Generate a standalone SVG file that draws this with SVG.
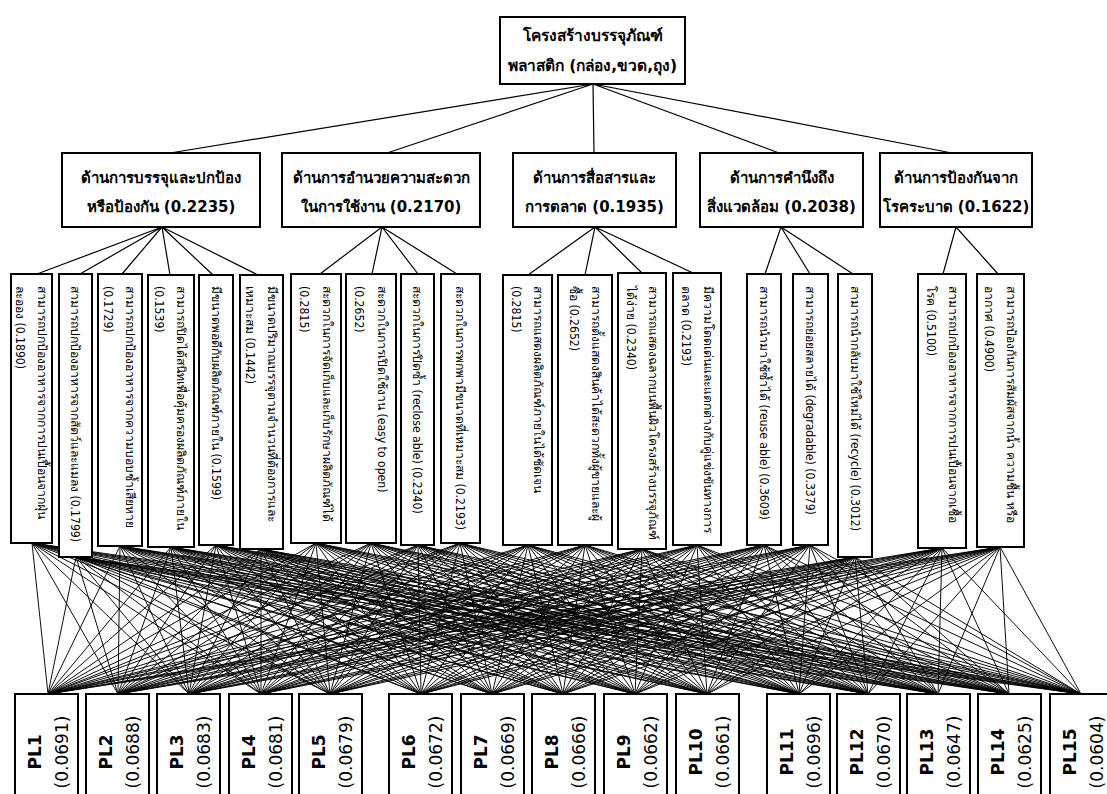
<svg xmlns="http://www.w3.org/2000/svg" width="1107" height="794" viewBox="0 0 1107 794">
  <style>
    .box { fill: #ffffff; stroke: #000000; stroke-width: 2; }
    .edge { fill: none; stroke: #000000; stroke-width: 1.2; }
    .mesh { fill: none; stroke: #000000; stroke-width: 0.95; }
    text { font-family: "DejaVu Sans", "Noto Sans", sans-serif; fill: #000000; }
    .t0 { font-size: 15.5px; font-weight: bold; text-anchor: middle; }
    .t1 { font-size: 15px; font-weight: bold; text-anchor: middle; }
    .t2 { font-family: "DejaVu Sans Condensed", "DejaVu Sans", sans-serif; font-size: 12.1px; }
    .t3 { font-size: 17px; text-anchor: middle; }
    .t3 .pl { font-weight: bold; }
  </style>
  <rect width="1107" height="794" fill="#ffffff"/>

  <!-- connectors -->
  <g id="connectors">
    <!-- goal to criteria -->
    <path class="edge" d="M593 84L170 153M593 84L387 153M593 84L594 153M593 84L779 153M593 84L952 153"/>
    <!-- criteria to sub-criteria -->
    <path class="edge" d="M162 227L37 274M162 227L80 274M162 227L122 274M162 227L170 275M162 227L213 275M162 227L258 275"/>
    <path class="edge" d="M382 227L320 274M382 227L372 274M382 227L418 274M382 227L457 274"/>
    <path class="edge" d="M595 227L528 275M595 227L585 275M595 227L642 273M595 227L693 273"/>
    <path class="edge" d="M781 227L765 274M781 227L810 274M781 227L853 274"/>
    <path class="edge" d="M956 227L943 274M956 227L998 274"/>
    <!-- sub-criteria to alternatives -->
    <path class="mesh" d="M32 543L48 694M32 543L118 694M32 543L189 694M32 543L261 694M32 543L330 694M32 543L421 694M32 543L492 694M32 543L563 694M32 543L635 694M32 543L707 694M32 543L799 694M32 543L868 694M32 543L938 694M32 543L1009 694M32 543L1081 694"/>
    <path class="mesh" d="M76 557L48 694M76 557L118 694M76 557L189 694M76 557L261 694M76 557L330 694M76 557L421 694M76 557L492 694M76 557L563 694M76 557L635 694M76 557L707 694M76 557L799 694M76 557L868 694M76 557L938 694M76 557L1009 694M76 557L1081 694"/>
    <path class="mesh" d="M120 546L48 694M120 546L118 694M120 546L189 694M120 546L261 694M120 546L330 694M120 546L421 694M120 546L492 694M120 546L563 694M120 546L635 694M120 546L707 694M120 546L799 694M120 546L868 694M120 546L938 694M120 546L1009 694M120 546L1081 694"/>
    <path class="mesh" d="M171 547L48 694M171 547L118 694M171 547L189 694M171 547L261 694M171 547L330 694M171 547L421 694M171 547L492 694M171 547L563 694M171 547L635 694M171 547L707 694M171 547L799 694M171 547L868 694M171 547L938 694M171 547L1009 694M171 547L1081 694"/>
    <path class="mesh" d="M216 545L48 694M216 545L118 694M216 545L189 694M216 545L261 694M216 545L330 694M216 545L421 694M216 545L492 694M216 545L563 694M216 545L635 694M216 545L707 694M216 545L799 694M216 545L868 694M216 545L938 694M216 545L1009 694M216 545L1081 694"/>
    <path class="mesh" d="M261 549L48 694M261 549L118 694M261 549L189 694M261 549L261 694M261 549L330 694M261 549L421 694M261 549L492 694M261 549L563 694M261 549L635 694M261 549L707 694M261 549L799 694M261 549L868 694M261 549L938 694M261 549L1009 694M261 549L1081 694"/>
    <path class="mesh" d="M316 543L48 694M316 543L118 694M316 543L189 694M316 543L261 694M316 543L330 694M316 543L421 694M316 543L492 694M316 543L563 694M316 543L635 694M316 543L707 694M316 543L799 694M316 543L868 694M316 543L938 694M316 543L1009 694M316 543L1081 694"/>
    <path class="mesh" d="M371 543L48 694M371 543L118 694M371 543L189 694M371 543L261 694M371 543L330 694M371 543L421 694M371 543L492 694M371 543L563 694M371 543L635 694M371 543L707 694M371 543L799 694M371 543L868 694M371 543L938 694M371 543L1009 694M371 543L1081 694"/>
    <path class="mesh" d="M418 545L48 694M418 545L118 694M418 545L189 694M418 545L261 694M418 545L330 694M418 545L421 694M418 545L492 694M418 545L563 694M418 545L635 694M418 545L707 694M418 545L799 694M418 545L868 694M418 545L938 694M418 545L1009 694M418 545L1081 694"/>
    <path class="mesh" d="M460 543L48 694M460 543L118 694M460 543L189 694M460 543L261 694M460 543L330 694M460 543L421 694M460 543L492 694M460 543L563 694M460 543L635 694M460 543L707 694M460 543L799 694M460 543L868 694M460 543L938 694M460 543L1009 694M460 543L1081 694"/>
    <path class="mesh" d="M528 545L48 694M528 545L118 694M528 545L189 694M528 545L261 694M528 545L330 694M528 545L421 694M528 545L492 694M528 545L563 694M528 545L635 694M528 545L707 694M528 545L799 694M528 545L868 694M528 545L938 694M528 545L1009 694M528 545L1081 694"/>
    <path class="mesh" d="M585 545L48 694M585 545L118 694M585 545L189 694M585 545L261 694M585 545L330 694M585 545L421 694M585 545L492 694M585 545L563 694M585 545L635 694M585 545L707 694M585 545L799 694M585 545L868 694M585 545L938 694M585 545L1009 694M585 545L1081 694"/>
    <path class="mesh" d="M642 549L48 694M642 549L118 694M642 549L189 694M642 549L261 694M642 549L330 694M642 549L421 694M642 549L492 694M642 549L563 694M642 549L635 694M642 549L707 694M642 549L799 694M642 549L868 694M642 549L938 694M642 549L1009 694M642 549L1081 694"/>
    <path class="mesh" d="M697 545L48 694M697 545L118 694M697 545L189 694M697 545L261 694M697 545L330 694M697 545L421 694M697 545L492 694M697 545L563 694M697 545L635 694M697 545L707 694M697 545L799 694M697 545L868 694M697 545L938 694M697 545L1009 694M697 545L1081 694"/>
    <path class="mesh" d="M764 545L48 694M764 545L118 694M764 545L189 694M764 545L261 694M764 545L330 694M764 545L421 694M764 545L492 694M764 545L563 694M764 545L635 694M764 545L707 694M764 545L799 694M764 545L868 694M764 545L938 694M764 545L1009 694M764 545L1081 694"/>
    <path class="mesh" d="M810 545L48 694M810 545L118 694M810 545L189 694M810 545L261 694M810 545L330 694M810 545L421 694M810 545L492 694M810 545L563 694M810 545L635 694M810 545L707 694M810 545L799 694M810 545L868 694M810 545L938 694M810 545L1009 694M810 545L1081 694"/>
    <path class="mesh" d="M855 557L48 694M855 557L118 694M855 557L189 694M855 557L261 694M855 557L330 694M855 557L421 694M855 557L492 694M855 557L563 694M855 557L635 694M855 557L707 694M855 557L799 694M855 557L868 694M855 557L938 694M855 557L1009 694M855 557L1081 694"/>
    <path class="mesh" d="M942 548L48 694M942 548L118 694M942 548L189 694M942 548L261 694M942 548L330 694M942 548L421 694M942 548L492 694M942 548L563 694M942 548L635 694M942 548L707 694M942 548L799 694M942 548L868 694M942 548L938 694M942 548L1009 694M942 548L1081 694"/>
    <path class="mesh" d="M1000 547L48 694M1000 547L118 694M1000 547L189 694M1000 547L261 694M1000 547L330 694M1000 547L421 694M1000 547L492 694M1000 547L563 694M1000 547L635 694M1000 547L707 694M1000 547L799 694M1000 547L868 694M1000 547L938 694M1000 547L1009 694M1000 547L1081 694"/>
  </g>

  <!-- goal -->
  <g id="goal">
    <rect class="box" x="500" y="17" width="185" height="67"/>
    <text class="t0" x="592.5" y="41">โครงสร้างบรรจุภัณฑ์</text>
    <text class="t0" x="592.5" y="71">พลาสติก (กล่อง,ขวด,ถุง)</text>
  </g>

  <!-- criteria -->
  <g id="c1">
    <rect class="box" x="62" y="153" width="198" height="74"/>
    <text class="t1" x="161" y="183">ด้านการบรรจุและปกป้อง</text>
    <text class="t1" x="161" y="212">หรือป้องกัน (0.2235)</text>
  </g>
  <g id="c2">
    <rect class="box" x="282" y="153" width="198" height="74"/>
    <text class="t1" x="381" y="183">ด้านการอำนวยความสะดวก</text>
    <text class="t1" x="381" y="212">ในการใช้งาน (0.2170)</text>
  </g>
  <g id="c3">
    <rect class="box" x="513" y="153" width="163" height="74"/>
    <text class="t1" x="594.5" y="183">ด้านการสื่อสารและ</text>
    <text class="t1" x="594.5" y="212">การตลาด (0.1935)</text>
  </g>
  <g id="c4">
    <rect class="box" x="700" y="153" width="163" height="74"/>
    <text class="t1" x="781.5" y="183">ด้านการคำนึงถึง</text>
    <text class="t1" x="781.5" y="212">สิ่งแวดล้อม (0.2038)</text>
  </g>
  <g id="c5">
    <rect class="box" x="880" y="153" width="152" height="74"/>
    <text class="t1" x="956" y="183">ด้านการป้องกันจาก</text>
    <text class="t1" x="956" y="212">โรคระบาด (0.1622)</text>
  </g>

  <!-- sub-criteria (vertical labels) -->
  <g id="s1">
    <rect class="box" x="11" y="274" width="41" height="269"/>
    <text class="t2" transform="translate(37.5 286) rotate(90)"><tspan x="0" y="0">สามารถปกป้องอาหารจากการปนเปื้อนจากฝุ่น</tspan><tspan x="0" dy="22">ละออง (0.1890)</tspan></text>
  </g>
  <g id="s2">
    <rect class="box" x="59" y="274" width="33" height="283"/>
    <text class="t2" transform="translate(71 286) rotate(90)">สามารถปกป้องอาหารจากสัตว์และแมลง (0.1799)</text>
  </g>
  <g id="s3">
    <rect class="box" x="98" y="274" width="44" height="272"/>
    <text class="t2" transform="translate(126 286) rotate(90)"><tspan x="0" y="0">สามารถปกป้องอาหารจากความบอบช้ำเสียหาย</tspan><tspan x="0" dy="22">(0.1729)</tspan></text>
  </g>
  <g id="s4">
    <rect class="box" x="148" y="275" width="46" height="272"/>
    <text class="t2" transform="translate(177 286) rotate(90)"><tspan x="0" y="0">สามารถปิดได้สนิทเพื่อคุ้มครองผลิตภัณฑ์ภายใน</tspan><tspan x="0" dy="22">(0.1539)</tspan></text>
  </g>
  <g id="s5">
    <rect class="box" x="199" y="275" width="34" height="270"/>
    <text class="t2" transform="translate(211.5 286) rotate(90)">มีขนาดพอดีกับผลิตภัณฑ์ภายใน (0.1599)</text>
  </g>
  <g id="s6">
    <rect class="box" x="240" y="275" width="43" height="274"/>
    <text class="t2" transform="translate(267.5 286) rotate(90)"><tspan x="0" y="0">มีขนาดปริมาณบรรจุตามจำนวนที่ต้องการและ</tspan><tspan x="0" dy="22">เหมาะสม (0.1442)</tspan></text>
  </g>
  <g id="s7">
    <rect class="box" x="291" y="274" width="50" height="269"/>
    <text class="t2" transform="translate(323 286) rotate(90)"><tspan x="0" y="0">สะดวกในการจัดเก็บและเก็บรักษาผลิตภัณฑ์ได้</tspan><tspan x="0" dy="23">(0.2815)</tspan></text>
  </g>
  <g id="s8">
    <rect class="box" x="346" y="274" width="50" height="269"/>
    <text class="t2" transform="translate(378 286) rotate(90)"><tspan x="0" y="0">สะดวกในการเปิดใช้งาน (easy to open)</tspan><tspan x="0" dy="23">(0.2652)</tspan></text>
  </g>
  <g id="s9">
    <rect class="box" x="401" y="274" width="33" height="271"/>
    <text class="t2" transform="translate(413 286) rotate(90)">สะดวกในการปิดซ้ำ (reclose able) (0.2340)</text>
  </g>
  <g id="s10">
    <rect class="box" x="441" y="274" width="39" height="269"/>
    <text class="t2" transform="translate(456 286) rotate(90)">สะดวกในการพกพามีขนาดที่เหมาะสม (0.2193)</text>
  </g>
  <g id="s11">
    <rect class="box" x="503" y="275" width="49" height="270"/>
    <text class="t2" transform="translate(534 286) rotate(90)"><tspan x="0" y="0">สามารถแสดงผลิตภัณฑ์ภายในได้ชัดเจน</tspan><tspan x="0" dy="22">(0.2815)</tspan></text>
  </g>
  <g id="s12">
    <rect class="box" x="558" y="275" width="54" height="270"/>
    <text class="t2" transform="translate(591.5 286) rotate(90)"><tspan x="0" y="0">สามารถตั้งแสดงสินค้าได้สะดวกทั้งผู้ขายและผู้</tspan><tspan x="0" dy="22">ซื้อ (0.2652)</tspan></text>
  </g>
  <g id="s13">
    <rect class="box" x="618" y="273" width="48" height="276"/>
    <text class="t2" transform="translate(648.5 286) rotate(90)"><tspan x="0" y="0">สามารถแสดงฉลากบนพื้นผิวโครงสร้างบรรจุภัณฑ์</tspan><tspan x="0" dy="22">ได้ง่าย (0.2340)</tspan></text>
  </g>
  <g id="s14">
    <rect class="box" x="673" y="273" width="48" height="272"/>
    <text class="t2" transform="translate(703.5 286) rotate(90)"><tspan x="0" y="0">มีความโดดเด่นและแตกต่างกับคู่แข่งขันทางการ</tspan><tspan x="0" dy="22">ตลาด (0.2193)</tspan></text>
  </g>
  <g id="s15">
    <rect class="box" x="747" y="274" width="34" height="271"/>
    <text class="t2" transform="translate(759.5 286) rotate(90)">สามารถนำมาใช้ซ้ำได้ (reuse able) (0.3609)</text>
  </g>
  <g id="s16">
    <rect class="box" x="793" y="274" width="35" height="271"/>
    <text class="t2" transform="translate(806 286) rotate(90)">สามารถย่อยสลายได้ (degradable) (0.3379)</text>
  </g>
  <g id="s17">
    <rect class="box" x="838" y="274" width="34" height="283"/>
    <text class="t2" transform="translate(850.5 286) rotate(90)">สามารถนำกลับมาใช้ใหม่ได้ (recycle) (0.3012)</text>
  </g>
  <g id="s18">
    <rect class="box" x="918" y="274" width="48" height="274"/>
    <text class="t2" transform="translate(948.5 286) rotate(90)"><tspan x="0" y="0">สามารถปกป้องอาหารจากการปนเปื้อนจากเชื้อ</tspan><tspan x="0" dy="22">โรค (0.5100)</tspan></text>
  </g>
  <g id="s19">
    <rect class="box" x="977" y="274" width="47" height="273"/>
    <text class="t2" transform="translate(1007 286) rotate(90)"><tspan x="0" y="0">สามารถป้องกันการสัมผัสจากน้ำ ความชื้น หรือ</tspan><tspan x="0" dy="22">อากาศ (0.4900)</tspan></text>
  </g>

  <!-- alternatives -->
  <g id="PL1"><rect class="box" x="15" y="694" width="63" height="110"/><text class="t3" transform="translate(41 752) rotate(-90)"><tspan class="pl" x="0" y="0">PL1</tspan><tspan x="0" dy="27">(0.0691)</tspan></text></g>
  <g id="PL2"><rect class="box" x="86" y="694" width="63" height="110"/><text class="t3" transform="translate(112 752) rotate(-90)"><tspan class="pl" x="0" y="0">PL2</tspan><tspan x="0" dy="27">(0.0688)</tspan></text></g>
  <g id="PL3"><rect class="box" x="157" y="694" width="63" height="110"/><text class="t3" transform="translate(183 752) rotate(-90)"><tspan class="pl" x="0" y="0">PL3</tspan><tspan x="0" dy="27">(0.0683)</tspan></text></g>
  <g id="PL4"><rect class="box" x="229" y="694" width="63" height="110"/><text class="t3" transform="translate(255 752) rotate(-90)"><tspan class="pl" x="0" y="0">PL4</tspan><tspan x="0" dy="27">(0.0681)</tspan></text></g>
  <g id="PL5"><rect class="box" x="299" y="694" width="63" height="110"/><text class="t3" transform="translate(325 752) rotate(-90)"><tspan class="pl" x="0" y="0">PL5</tspan><tspan x="0" dy="27">(0.0679)</tspan></text></g>
  <g id="PL6"><rect class="box" x="389" y="694" width="63" height="110"/><text class="t3" transform="translate(415 752) rotate(-90)"><tspan class="pl" x="0" y="0">PL6</tspan><tspan x="0" dy="27">(0.0672)</tspan></text></g>
  <g id="PL7"><rect class="box" x="461" y="694" width="63" height="110"/><text class="t3" transform="translate(487 752) rotate(-90)"><tspan class="pl" x="0" y="0">PL7</tspan><tspan x="0" dy="27">(0.0669)</tspan></text></g>
  <g id="PL8"><rect class="box" x="532" y="694" width="63" height="110"/><text class="t3" transform="translate(558 752) rotate(-90)"><tspan class="pl" x="0" y="0">PL8</tspan><tspan x="0" dy="27">(0.0666)</tspan></text></g>
  <g id="PL9"><rect class="box" x="604" y="694" width="63" height="110"/><text class="t3" transform="translate(630 752) rotate(-90)"><tspan class="pl" x="0" y="0">PL9</tspan><tspan x="0" dy="27">(0.0662)</tspan></text></g>
  <g id="PL10"><rect class="box" x="676" y="694" width="63" height="110"/><text class="t3" transform="translate(702 752) rotate(-90)"><tspan class="pl" x="0" y="0">PL10</tspan><tspan x="0" dy="27">(0.0661)</tspan></text></g>
  <g id="PL11"><rect class="box" x="767" y="694" width="63" height="110"/><text class="t3" transform="translate(793 752) rotate(-90)"><tspan class="pl" x="0" y="0">PL11</tspan><tspan x="0" dy="27">(0.0696)</tspan></text></g>
  <g id="PL12"><rect class="box" x="837" y="694" width="63" height="110"/><text class="t3" transform="translate(863 752) rotate(-90)"><tspan class="pl" x="0" y="0">PL12</tspan><tspan x="0" dy="27">(0.0670)</tspan></text></g>
  <g id="PL13"><rect class="box" x="907" y="694" width="63" height="110"/><text class="t3" transform="translate(933 752) rotate(-90)"><tspan class="pl" x="0" y="0">PL13</tspan><tspan x="0" dy="27">(0.0647)</tspan></text></g>
  <g id="PL14"><rect class="box" x="978" y="694" width="63" height="110"/><text class="t3" transform="translate(1004 752) rotate(-90)"><tspan class="pl" x="0" y="0">PL14</tspan><tspan x="0" dy="27">(0.0625)</tspan></text></g>
  <g id="PL15"><rect class="box" x="1050" y="694" width="63" height="110"/><text class="t3" transform="translate(1076 752) rotate(-90)"><tspan class="pl" x="0" y="0">PL15</tspan><tspan x="0" dy="27">(0.0604)</tspan></text></g>
</svg>
